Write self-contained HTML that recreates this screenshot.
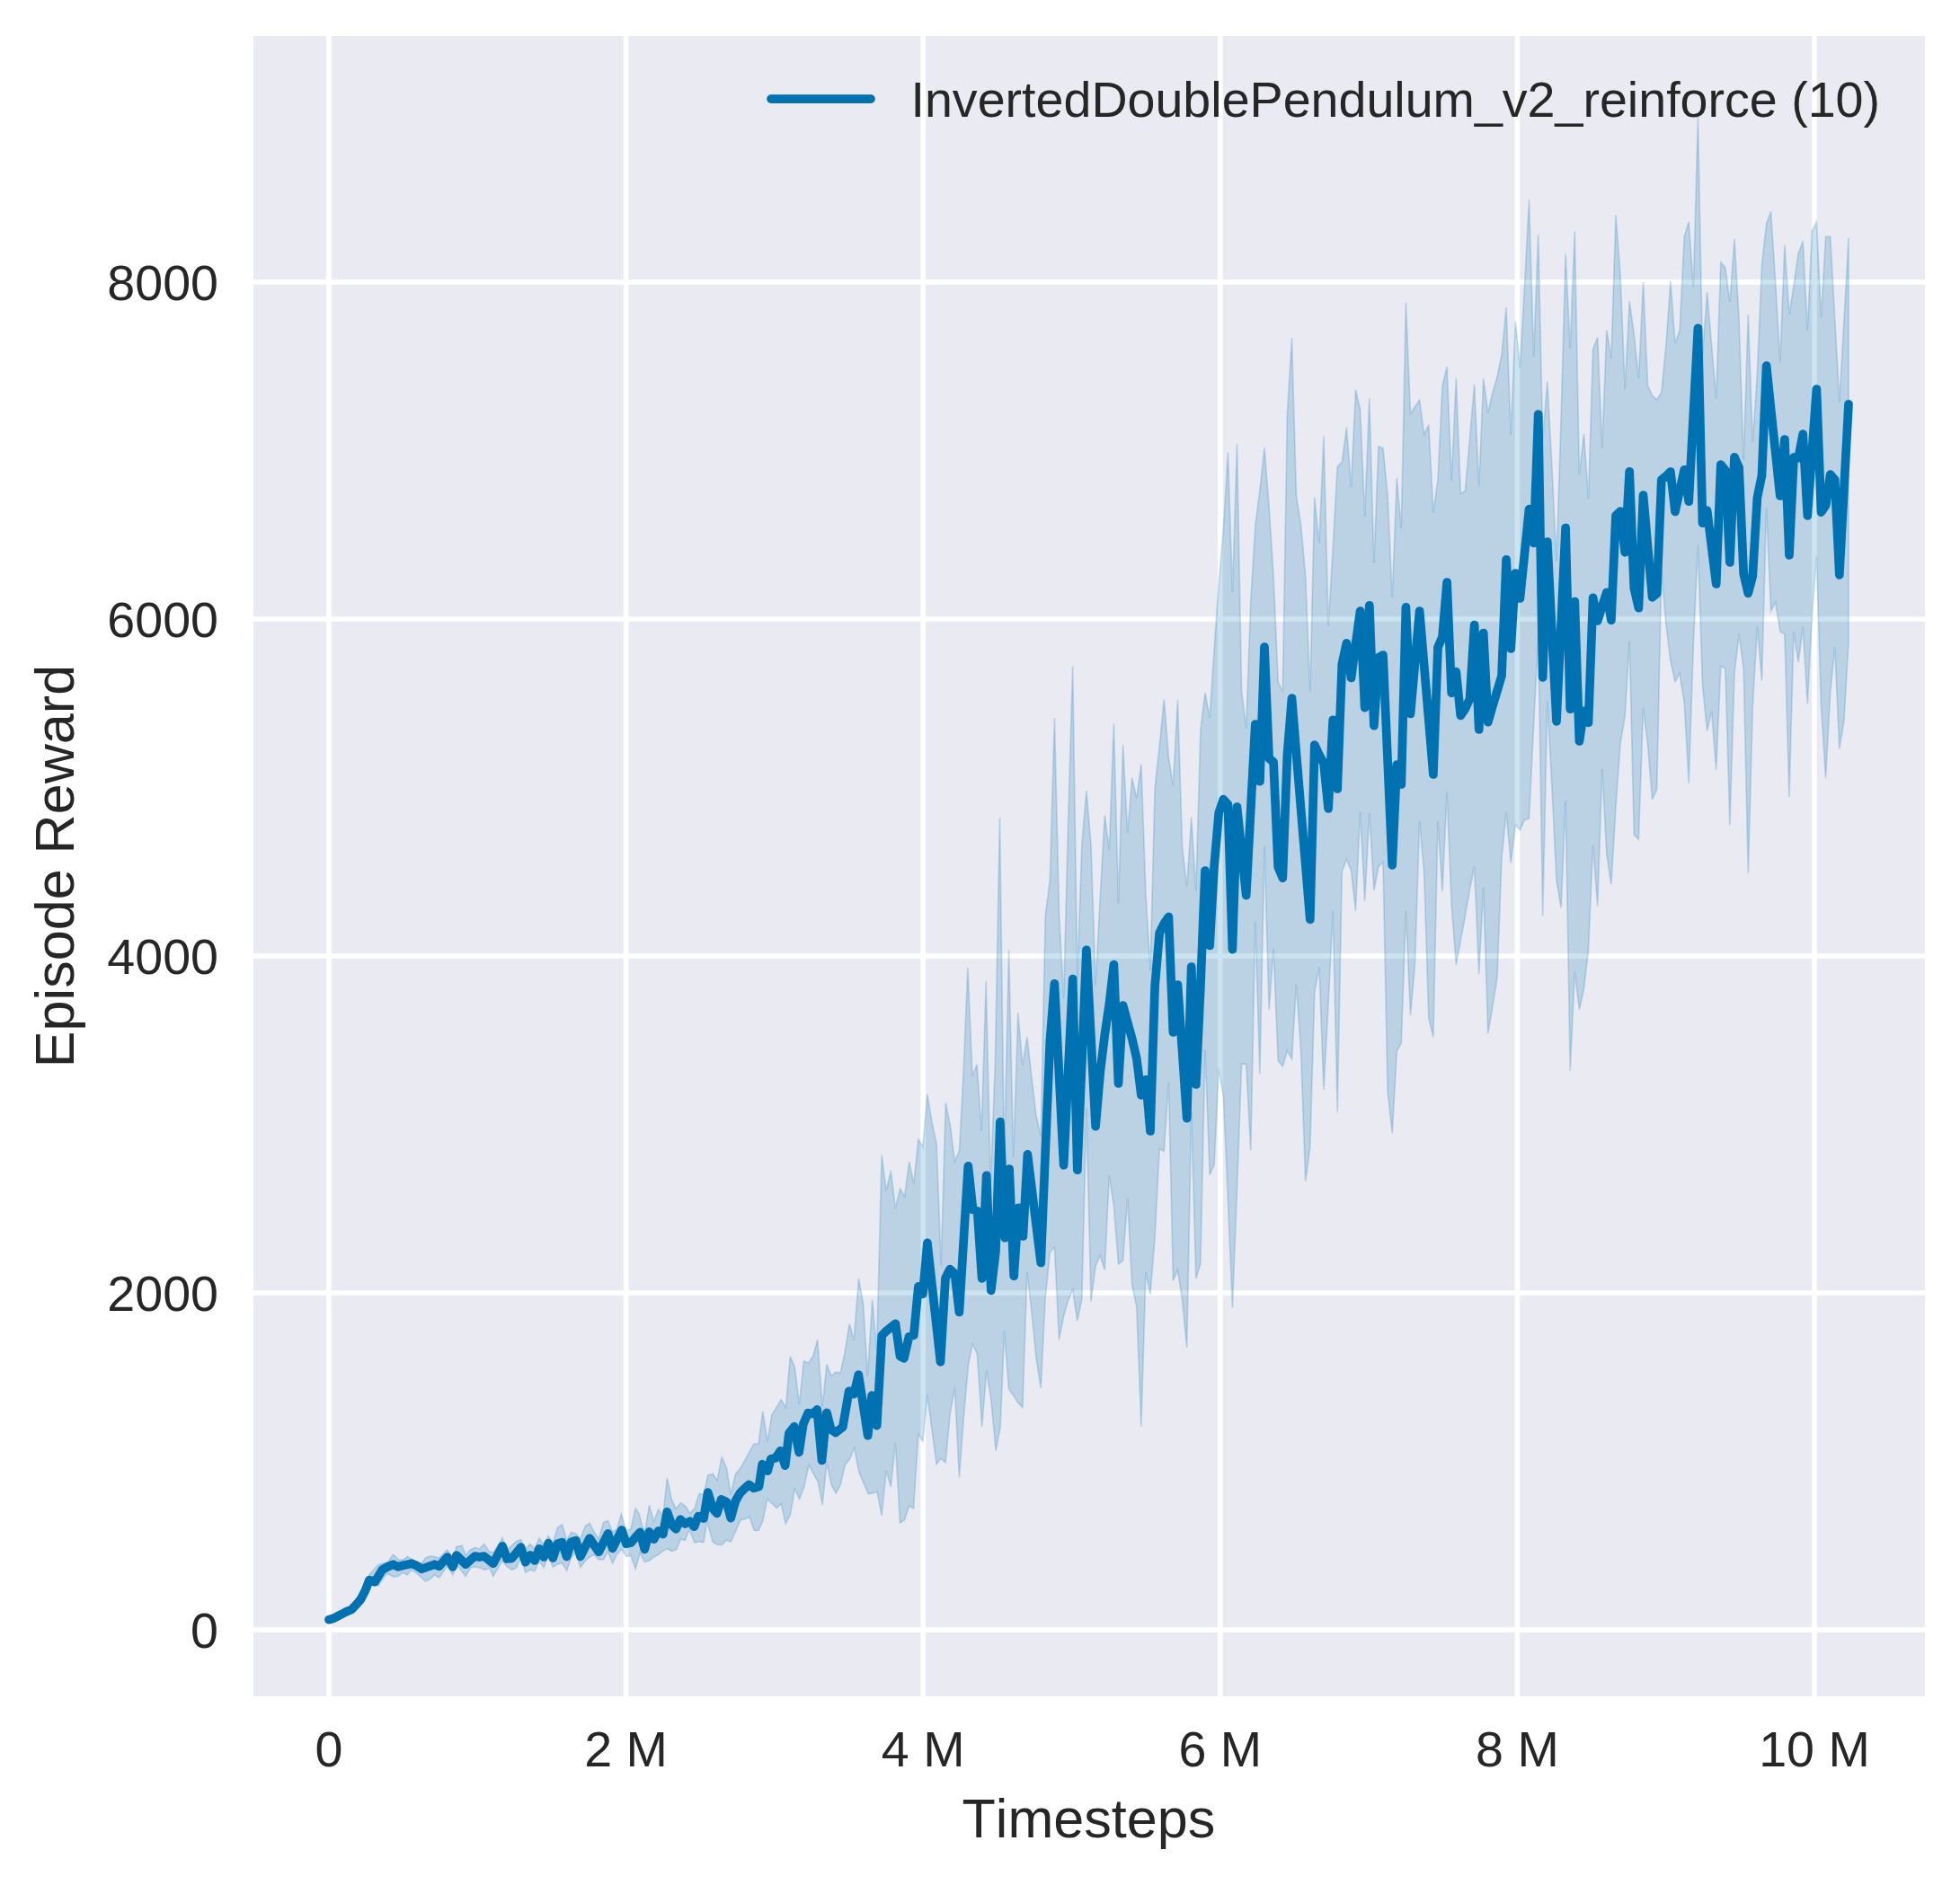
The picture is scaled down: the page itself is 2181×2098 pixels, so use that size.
<!DOCTYPE html>
<html lang="en"><head><meta charset="utf-8"><title>InvertedDoublePendulum_v2_reinforce</title>
<style>html,body{margin:0;padding:0;background:#fff}svg{display:block}</style></head>
<body>
<svg width="2181" height="2098" viewBox="0 0 2181 2098">
<rect width="2181" height="2098" fill="#fff"/>
<rect x="282" y="40" width="1860" height="1848" fill="#eaeaf2"/>
<g stroke="#fff" stroke-width="5.6" stroke-linecap="butt">
<line x1="366.0" x2="366.0" y1="40" y2="1888"/>
<line x1="696.6" x2="696.6" y1="40" y2="1888"/>
<line x1="1027.2" x2="1027.2" y1="40" y2="1888"/>
<line x1="1357.8" x2="1357.8" y1="40" y2="1888"/>
<line x1="1688.4" x2="1688.4" y1="40" y2="1888"/>
<line x1="2019.0" x2="2019.0" y1="40" y2="1888"/>
<line x1="282" x2="2142" y1="1814.0" y2="1814.0"/>
<line x1="282" x2="2142" y1="1439.0" y2="1439.0"/>
<line x1="282" x2="2142" y1="1064.0" y2="1064.0"/>
<line x1="282" x2="2142" y1="689.0" y2="689.0"/>
<line x1="282" x2="2142" y1="314.0" y2="314.0"/>
</g>
<clipPath id="c"><rect x="282" y="40" width="1860" height="1848"/></clipPath>
<g clip-path="url(#c)">
<polygon points="366.0,1802.7 371.1,1801.3 376.2,1798.6 381.2,1796.0 386.3,1793.4 391.4,1791.3 396.5,1785.8 401.5,1780.0 406.6,1770.0 411.0,1752.4 421.2,1741.2 431.4,1738.7 437.6,1730.0 443.7,1736.1 448.8,1736.1 452.9,1732.6 458.0,1735.1 463.1,1738.2 469.2,1740.2 473.3,1734.1 478.4,1732.0 483.5,1732.6 488.6,1734.1 497.8,1724.9 503.9,1735.1 508.0,1721.3 514.1,1720.3 518.2,1731.0 523.3,1724.9 528.4,1722.3 533.5,1723.9 538.6,1718.3 544.7,1726.9 548.8,1728.0 553.9,1720.8 559.0,1711.6 559.2,1712.0 564.3,1725.3 569.4,1720.2 574.5,1715.6 579.6,1713.6 584.7,1725.3 589.8,1718.2 594.9,1723.3 600.0,1712.0 605.1,1719.2 610.2,1709.5 615.3,1717.7 620.4,1700.3 625.5,1696.7 630.6,1714.1 635.7,1705.4 640.8,1706.9 645.9,1713.1 651.0,1698.8 656.1,1695.2 661.2,1704.9 666.3,1713.1 671.4,1694.7 676.5,1692.4 681.6,1704.9 686.7,1701.8 691.3,1685.0 696.9,1703.9 702.0,1701.8 707.1,1678.9 711.2,1685.0 717.3,1708.0 722.4,1675.3 727.6,1693.2 732.7,1679.9 737.8,1687.6 742.3,1645.0 747.4,1668.9 752.2,1679.0 757.5,1672.6 762.8,1676.3 767.8,1684.3 772.9,1679.0 778.0,1662.5 783.0,1663.6 787.7,1641.9 793.1,1640.3 798.1,1647.7 803.1,1621.7 808.4,1633.4 813.2,1663.1 818.5,1640.3 823.8,1634.4 829.1,1624.9 833.9,1615.9 838.7,1607.4 844.0,1606.8 848.8,1570.8 854.1,1604.7 858.8,1574.5 864.1,1566.5 869.3,1557.9 874.5,1566.5 879.3,1509.6 884.4,1521.8 889.4,1562.8 894.5,1514.9 899.5,1517.0 904.6,1509.6 909.7,1491.0 915.1,1565.5 919.9,1518.6 925.0,1531.4 930.0,1527.1 935.1,1528.2 940.1,1505.4 945.2,1473.5 950.2,1491.6 955.5,1423.1 960.6,1451.2 965.4,1531.4 970.7,1446.5 975.6,1503.2 981.1,1285.5 986.2,1325.3 991.3,1303.0 996.4,1345.2 1001.5,1322.9 1006.6,1331.6 1011.7,1293.1 1016.8,1317.3 1021.9,1268.3 1026.9,1275.9 1031.9,1217.9 1037.0,1248.9 1042.1,1272.8 1047.2,1408.0 1052.3,1227.4 1057.3,1252.1 1062.4,1292.7 1067.5,1280.7 1071.8,1200.0 1076.9,1077.0 1082.0,1197.5 1087.1,1184.8 1092.2,1259.0 1097.2,1091.9 1102.3,1317.0 1107.4,1182.0 1112.5,910.2 1117.5,1290.0 1122.6,1057.4 1127.7,1288.0 1132.8,1127.4 1137.9,1186.0 1142.9,1154.0 1148.0,1199.0 1153.1,1242.0 1158.2,1265.0 1163.2,1019.2 1168.3,980.0 1173.4,799.0 1178.5,1015.8 1183.6,1110.9 1188.6,915.0 1193.7,741.3 1198.8,1088.8 1203.9,939.0 1208.9,880.0 1214.0,939.0 1219.1,1096.5 1224.2,998.8 1229.3,907.2 1234.3,946.2 1239.4,805.3 1244.5,1005.4 1249.6,828.8 1254.7,927.0 1259.7,865.7 1264.8,888.6 1269.9,850.4 1275.0,995.8 1280.0,1080.4 1285.1,877.0 1290.2,830.6 1295.3,778.3 1300.4,843.2 1305.4,874.2 1310.5,778.6 1315.6,943.2 1320.7,987.0 1325.7,909.6 1330.8,991.6 1335.9,812.5 1341.0,771.0 1346.1,799.0 1351.1,722.0 1356.2,650.0 1361.3,588.7 1366.4,503.2 1371.4,659.0 1376.5,493.9 1381.6,769.2 1386.7,810.7 1391.8,668.2 1396.8,585.7 1401.9,545.6 1407.0,498.3 1412.1,563.4 1417.1,641.0 1422.2,758.5 1427.3,770.2 1432.4,461.0 1437.5,376.0 1442.5,552.6 1447.6,584.0 1452.7,641.6 1457.8,770.3 1462.8,553.7 1467.9,605.2 1473.0,485.5 1478.1,697.2 1483.2,610.0 1488.2,519.4 1493.3,514.2 1498.4,475.7 1503.5,542.2 1508.5,433.6 1513.6,456.0 1518.7,574.2 1523.8,443.0 1528.9,626.7 1533.9,496.7 1539.0,499.0 1544.1,550.6 1549.2,665.5 1554.3,532.2 1559.3,588.2 1564.4,337.0 1569.5,460.4 1574.6,452.5 1579.6,445.2 1584.7,483.7 1589.8,472.7 1594.9,571.0 1600.0,534.0 1605.0,429.8 1610.1,408.4 1615.2,535.2 1620.3,420.7 1625.3,549.2 1630.4,546.2 1635.5,488.0 1640.6,428.0 1645.7,541.8 1650.7,421.4 1655.8,459.2 1660.9,436.8 1666.0,419.3 1671.0,394.8 1676.1,341.9 1681.2,484.0 1686.3,357.5 1691.4,409.2 1696.4,320.0 1701.5,222.0 1706.6,397.3 1711.7,261.0 1716.7,489.0 1721.8,424.6 1726.9,519.0 1732.0,625.0 1737.1,464.5 1742.1,282.2 1747.2,388.0 1752.3,257.2 1757.4,528.4 1762.5,483.0 1767.5,555.2 1772.6,388.7 1777.7,375.6 1782.8,498.8 1787.8,367.5 1792.9,398.5 1798.0,239.3 1803.1,306.8 1808.2,433.1 1813.2,335.2 1818.3,372.0 1823.4,421.0 1828.5,314.0 1833.5,428.9 1838.6,440.3 1843.7,444.9 1848.8,436.6 1853.9,384.0 1858.9,312.8 1864.0,382.0 1869.1,367.2 1874.2,263.2 1879.2,246.7 1884.3,319.4 1889.4,130.0 1894.5,395.0 1899.6,325.0 1904.6,384.4 1909.7,444.0 1914.8,292.0 1919.9,297.9 1924.9,336.3 1930.0,266.2 1935.1,355.0 1940.2,512.0 1945.3,349.7 1950.3,492.7 1955.4,416.4 1960.5,294.8 1965.6,248.9 1970.6,235.4 1975.7,314.8 1980.8,403.0 1985.9,272.5 1991.0,350.0 1996.0,317.7 2001.1,281.9 2006.2,268.7 2011.3,367.2 2016.4,256.8 2021.4,247.0 2026.5,352.6 2031.6,263.4 2036.7,263.4 2041.7,353.5 2046.8,447.9 2051.9,357.8 2057.0,264.8 2057.0,715.0 2051.9,803.0 2046.8,833.4 2041.7,720.5 2036.7,770.0 2031.6,866.2 2026.5,786.8 2021.4,619.5 2016.4,685.0 2011.3,783.4 2006.2,698.1 2001.1,737.2 1996.0,703.6 1991.0,887.0 1985.9,706.1 1980.8,702.7 1975.7,670.5 1970.6,680.1 1965.6,565.0 1960.5,757.6 1955.4,697.6 1950.3,786.8 1945.3,972.5 1940.2,744.3 1935.1,706.1 1930.0,749.4 1924.9,918.3 1919.9,744.3 1914.8,741.3 1909.7,856.7 1904.6,791.5 1899.6,813.6 1894.5,763.0 1889.4,606.8 1884.3,719.0 1879.2,871.6 1874.2,782.5 1869.1,749.4 1864.0,758.7 1858.9,735.8 1853.9,695.0 1848.8,634.0 1843.7,878.4 1838.6,889.8 1833.5,829.0 1828.5,787.6 1823.4,934.3 1818.3,929.2 1813.2,714.1 1808.2,797.0 1803.1,827.5 1798.0,899.0 1792.9,984.3 1787.8,950.5 1782.8,856.4 1777.7,1008.4 1772.6,940.8 1767.5,1057.4 1762.5,1100.5 1757.4,1123.7 1752.3,1081.2 1747.2,1191.6 1742.1,891.0 1737.1,1010.5 1732.0,980.0 1726.9,876.4 1721.8,781.0 1716.7,1019.5 1711.7,705.0 1706.6,808.0 1701.5,911.0 1696.4,912.6 1691.4,923.8 1686.3,918.4 1681.2,960.7 1676.1,903.6 1671.0,955.4 1666.0,1088.6 1660.9,1119.9 1655.8,1150.3 1650.7,988.0 1645.7,1084.5 1640.6,964.0 1635.5,990.0 1630.4,1019.5 1625.3,1046.7 1620.3,1073.8 1615.2,1008.0 1610.1,882.2 1605.0,992.4 1600.0,914.0 1594.9,1154.4 1589.8,1133.0 1584.7,971.8 1579.6,914.3 1574.6,1072.0 1569.5,1129.7 1564.4,1013.8 1559.3,1160.7 1554.3,1170.0 1549.2,1261.5 1544.1,1214.5 1539.0,959.3 1533.9,964.8 1528.9,991.0 1523.8,905.0 1518.7,1002.8 1513.6,903.3 1508.5,1013.8 1503.5,969.0 1498.4,956.3 1493.3,970.3 1488.2,1237.7 1483.2,1014.0 1478.1,1117.5 1473.0,1213.0 1467.9,1076.3 1462.8,1104.1 1457.8,1277.5 1452.7,1314.8 1447.6,1170.0 1442.5,1095.6 1437.5,1178.6 1432.4,1169.5 1427.3,1186.7 1422.2,1180.7 1417.1,1056.3 1412.1,1124.1 1407.0,942.0 1401.9,1195.4 1396.8,1026.2 1391.8,1280.4 1386.7,1184.4 1381.6,1184.0 1376.5,1324.2 1371.4,1455.5 1366.4,1335.8 1361.3,1220.0 1356.2,1189.9 1351.1,1296.2 1346.1,1307.6 1341.0,1168.4 1335.9,1406.5 1330.8,1423.1 1325.7,1237.5 1320.7,1500.0 1315.6,1447.6 1310.5,1413.5 1305.4,1425.4 1300.4,1204.6 1295.3,1281.3 1290.2,1278.7 1285.1,1377.6 1280.0,1440.6 1275.0,1416.0 1269.9,1588.0 1264.8,1454.6 1259.7,1430.0 1254.7,1333.8 1249.6,1403.0 1244.5,1407.0 1239.4,1342.6 1234.3,1308.4 1229.3,1413.5 1224.2,1397.4 1219.1,1409.1 1214.0,1449.0 1208.9,1233.7 1203.9,1445.9 1198.8,1470.4 1193.7,1435.7 1188.6,1447.6 1183.6,1465.0 1178.5,1491.1 1173.4,1388.2 1168.3,1393.7 1163.2,1444.7 1158.2,1545.3 1153.1,1511.8 1148.0,1460.6 1142.9,1416.0 1137.9,1566.7 1132.8,1561.2 1127.7,1553.2 1122.6,1546.0 1117.5,1481.6 1113.2,1588.2 1108.1,1614.5 1103.0,1559.6 1097.8,1525.4 1092.7,1588.2 1087.4,1507.1 1082.3,1495.9 1077.6,1518.2 1072.5,1575.5 1067.4,1644.7 1062.4,1544.5 1057.2,1573.9 1052.1,1628.0 1047.0,1623.2 1042.1,1629.6 1037.0,1591.4 1031.9,1552.4 1026.9,1604.1 1021.9,1596.2 1016.6,1678.9 1011.5,1676.1 1006.6,1691.7 1001.5,1694.9 996.4,1605.7 991.3,1655.1 986.2,1636.8 981.1,1686.9 976.0,1660.3 970.9,1661.9 966.2,1662.7 960.9,1650.3 955.8,1638.4 950.6,1611.3 945.5,1624.0 940.4,1630.4 935.4,1651.9 930.3,1662.2 925.1,1652.5 925.1,1652.7 920.2,1629.1 920.0,1628.8 915.1,1674.7 910.3,1649.3 905.5,1640.8 900.0,1630.7 894.9,1654.6 889.6,1668.4 884.3,1657.2 879.5,1685.4 874.2,1696.0 869.2,1673.7 864.4,1678.5 859.4,1673.7 853.7,1668.4 848.8,1692.8 844.0,1703.4 839.2,1703.4 833.9,1688.0 829.1,1690.7 823.8,1692.3 818.5,1704.5 813.2,1716.1 808.4,1714.0 803.7,1719.3 798.4,1719.3 793.1,1716.1 786.7,1692.8 783.0,1716.7 777.7,1715.6 772.9,1717.2 767.1,1702.3 762.3,1714.5 757.5,1712.9 752.7,1724.6 747.4,1726.5 742.3,1723.8 737.8,1726.3 732.7,1730.4 727.6,1733.0 722.4,1737.0 717.3,1738.6 712.2,1728.4 707.1,1746.2 702.0,1731.4 696.9,1732.4 691.8,1724.3 686.7,1729.4 681.6,1740.1 676.5,1727.3 671.4,1736.0 666.3,1736.0 661.2,1730.4 656.1,1733.0 651.0,1737.6 645.9,1744.7 640.8,1727.3 635.7,1733.5 630.6,1748.3 625.5,1739.6 620.4,1741.1 615.3,1744.2 610.2,1731.4 605.1,1744.7 600.0,1737.6 594.9,1748.8 589.8,1747.2 584.7,1750.3 579.6,1733.5 574.5,1745.2 569.4,1747.2 564.3,1743.7 559.2,1737.6 559.0,1737.1 548.8,1754.5 544.7,1745.3 539.6,1747.3 533.5,1744.8 528.4,1743.8 523.3,1745.3 518.2,1754.5 508.0,1741.2 503.9,1753.0 497.8,1743.3 488.6,1756.0 483.5,1753.0 478.4,1757.6 473.3,1760.1 463.1,1750.4 458.0,1747.3 452.9,1753.0 448.8,1750.4 442.7,1754.5 437.6,1755.0 431.4,1751.4 427.3,1755.5 421.2,1764.7 415.1,1764.7 411.0,1761.6 406.6,1770.0 401.5,1780.0 396.5,1785.8 391.4,1791.3 386.3,1793.4 381.2,1796.0 376.2,1798.6 371.1,1801.3 366.0,1802.7" fill="#0072b2" fill-opacity="0.2" stroke="#0072b2" stroke-opacity="0.2" stroke-width="1.7" stroke-linejoin="miter"/>
<polyline points="366.0,1802.7 371.1,1801.3 376.2,1798.6 381.2,1796.0 386.3,1793.4 391.4,1791.3 396.5,1785.8 401.5,1780.0 406.6,1770.0 411.0,1758.6 417.1,1760.6 425.3,1747.3 431.4,1743.8 437.6,1741.2 442.7,1743.8 448.8,1742.2 458.0,1740.2 463.1,1742.2 469.2,1746.3 483.5,1741.2 488.6,1743.3 497.8,1733.1 503.9,1743.8 508.0,1731.0 518.2,1741.2 528.4,1732.0 533.5,1733.1 538.6,1732.0 548.8,1740.2 559.0,1720.8 559.2,1721.2 564.3,1735.0 569.4,1734.5 574.5,1728.4 579.6,1722.2 584.7,1738.6 589.8,1730.9 594.9,1737.0 600.0,1723.8 605.1,1733.0 610.2,1717.7 615.3,1734.0 620.4,1718.2 625.5,1716.6 630.6,1732.4 635.7,1716.1 640.8,1714.6 645.9,1732.4 651.0,1722.2 656.1,1712.0 661.2,1719.7 666.3,1727.3 671.4,1717.1 676.5,1706.9 681.6,1723.3 686.7,1713.1 691.8,1702.9 696.9,1718.2 702.0,1717.1 707.1,1711.0 712.2,1705.4 717.3,1724.3 722.4,1704.9 727.6,1713.1 732.7,1703.9 737.8,1707.4 742.3,1682.7 747.4,1697.0 752.2,1701.8 757.0,1691.2 762.3,1696.0 767.6,1693.3 772.4,1699.2 777.1,1687.5 783.0,1690.1 787.7,1661.0 793.1,1679.0 797.8,1684.3 802.6,1668.9 808.4,1671.6 813.2,1689.6 818.5,1670.5 823.3,1662.0 828.1,1657.2 833.4,1652.5 838.7,1656.2 844.5,1654.6 848.2,1629.7 854.1,1637.1 857.8,1623.8 863.1,1622.8 868.4,1614.8 873.7,1631.2 877.9,1595.2 883.8,1587.7 889.1,1616.4 893.8,1585.1 899.2,1572.7 904.5,1573.4 909.2,1568.9 914.5,1625.4 919.8,1572.7 920.0,1572.3 924.8,1591.4 925.1,1591.1 929.9,1594.6 937.8,1588.2 944.7,1548.4 950.2,1551.6 955.3,1530.1 965.7,1597.8 970.1,1553.2 975.7,1586.6 981.3,1486.4 986.0,1481.6 996.4,1473.3 1001.5,1509.4 1005.9,1511.8 1011.5,1487.6 1016.8,1486.0 1021.9,1431.9 1026.9,1440.2 1031.9,1383.4 1046.5,1515.8 1052.0,1422.6 1057.0,1412.7 1062.4,1417.6 1067.4,1460.5 1077.3,1297.9 1082.6,1346.4 1087.6,1347.9 1092.6,1422.8 1097.7,1308.4 1102.8,1436.3 1107.9,1393.4 1112.9,1248.7 1118.1,1377.6 1123.1,1301.2 1128.2,1420.2 1133.3,1344.4 1138.4,1375.9 1143.4,1284.9 1158.2,1405.5 1163.2,1282.5 1168.3,1160.0 1173.4,1094.8 1178.5,1196.0 1183.6,1296.8 1188.6,1193.0 1193.7,1089.7 1198.8,1302.2 1203.9,1180.0 1208.9,1057.4 1214.0,1155.0 1219.1,1253.7 1224.2,1194.0 1229.3,1151.6 1234.3,1117.7 1239.4,1073.5 1244.5,1206.0 1249.6,1119.0 1254.7,1138.0 1259.7,1156.0 1264.8,1178.0 1269.9,1219.0 1275.0,1201.7 1280.0,1259.0 1285.1,1097.7 1290.2,1038.3 1295.3,1028.0 1300.4,1020.4 1305.4,1149.0 1310.5,1096.0 1315.6,1170.0 1320.7,1244.6 1325.7,1076.0 1330.8,1207.0 1335.9,1097.7 1341.0,969.0 1346.1,1052.4 1351.1,964.0 1356.2,904.8 1361.3,889.7 1366.4,895.2 1371.4,1056.6 1376.5,898.0 1381.6,947.0 1386.7,996.6 1391.8,900.0 1396.8,806.2 1401.9,869.7 1407.0,720.0 1412.1,844.0 1417.1,848.3 1422.2,964.8 1427.3,977.2 1432.4,840.0 1437.5,777.2 1442.5,838.8 1447.6,900.3 1452.7,961.9 1457.8,1023.4 1462.8,829.0 1467.9,840.0 1473.0,849.7 1478.1,900.0 1483.2,801.4 1488.2,878.0 1493.3,739.3 1498.4,715.9 1503.5,754.5 1508.5,717.0 1513.6,680.0 1518.7,787.6 1523.8,673.8 1528.9,807.6 1533.9,731.7 1539.0,729.0 1544.1,846.0 1549.2,962.8 1554.3,851.0 1559.3,873.0 1564.4,675.9 1569.5,794.5 1574.6,736.6 1579.6,680.0 1584.7,740.7 1589.8,801.4 1594.9,862.0 1600.0,720.5 1605.0,709.0 1610.1,648.0 1615.2,771.3 1620.3,747.7 1625.3,796.4 1630.4,789.0 1635.5,777.8 1640.6,695.7 1645.7,812.0 1650.7,704.7 1655.8,803.6 1660.9,786.0 1666.0,769.0 1671.0,752.0 1676.1,622.8 1681.2,722.0 1686.3,638.0 1691.4,666.0 1696.4,617.0 1701.5,566.7 1706.6,604.4 1711.7,461.0 1716.7,754.0 1721.8,603.0 1726.9,703.0 1732.0,802.8 1737.1,695.0 1742.1,587.6 1747.2,789.2 1752.3,669.6 1757.4,825.0 1762.5,791.4 1767.5,804.3 1772.6,665.3 1777.7,691.0 1782.8,675.0 1787.8,659.3 1792.9,690.3 1798.0,573.7 1803.1,569.0 1808.2,614.8 1813.2,524.8 1818.3,654.7 1823.4,676.7 1828.5,551.0 1833.5,608.0 1838.6,664.9 1843.7,660.6 1848.8,534.0 1853.9,529.9 1858.9,525.0 1864.0,569.5 1869.1,546.0 1874.2,522.8 1879.2,558.2 1884.3,462.0 1889.4,365.4 1894.5,582.2 1899.6,568.0 1904.6,609.0 1909.7,650.0 1914.8,517.0 1919.9,523.5 1924.9,626.0 1930.0,508.8 1935.1,520.5 1940.2,638.7 1945.3,660.3 1950.3,641.0 1955.4,553.9 1960.5,529.0 1965.6,407.2 1970.6,455.4 1975.7,503.7 1980.8,552.0 1985.9,489.0 1991.0,617.9 1996.0,509.0 2001.1,510.0 2006.2,483.2 2011.3,574.0 2016.4,502.0 2021.4,433.2 2026.5,570.1 2031.6,562.5 2036.7,528.1 2041.7,533.9 2046.8,639.8 2051.9,544.7 2057.0,449.8" fill="none" stroke="#0072b2" stroke-width="9.7" stroke-linejoin="round" stroke-linecap="round"/>
</g>
<g font-family="'Liberation Sans', Arial, sans-serif" fill="#262626" style="font-kerning:none">
<g font-size="55.6px" text-anchor="end">
<text x="243" y="1834.2">0</text>
<text x="243" y="1459.2">2000</text>
<text x="243" y="1084.2">4000</text>
<text x="243" y="709.2">6000</text>
<text x="243" y="334.2">8000</text>
</g>
<g font-size="55.6px" text-anchor="middle">
<text x="366.0" y="1966">0</text>
<text x="696.6" y="1966">2 M</text>
<text x="1027.2" y="1966">4 M</text>
<text x="1357.8" y="1966">6 M</text>
<text x="1688.4" y="1966">8 M</text>
<text x="2019.0" y="1966">10 M</text>
</g>
<text x="1211.4" y="2045.3" font-size="61.1px" text-anchor="middle">Timesteps</text>
<text transform="translate(82.4,964) rotate(-90)" font-size="61.1px" text-anchor="middle">Episode Reward</text>
<line x1="858" x2="969" y1="110.1" y2="110.1" stroke="#0072b2" stroke-width="9.7" stroke-linecap="round"/>
<text x="1013.5" y="130.4" font-size="55.6px">InvertedDoublePendulum_v2_reinforce (10)</text>
</g>
</svg>
</body></html>
